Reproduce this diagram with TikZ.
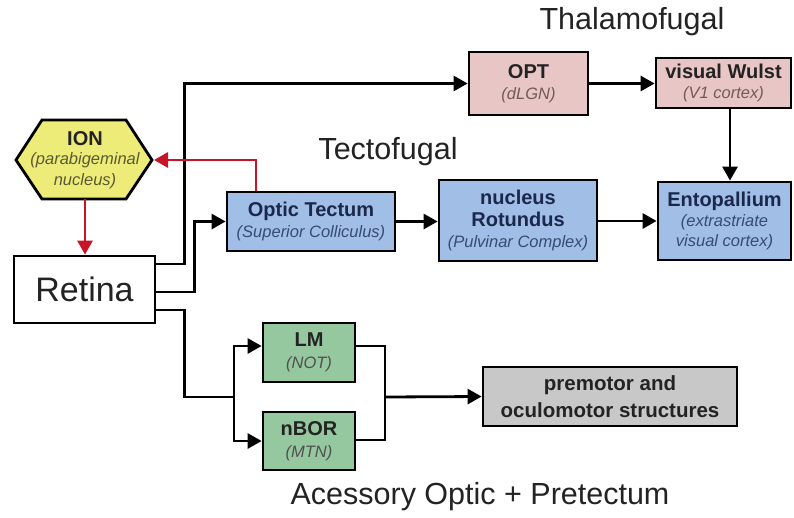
\documentclass[tikz,border=0pt]{standalone}
\usepackage{fontspec}
\setmainfont{Liberation Sans}
\usetikzlibrary{arrows.meta,calc}
\definecolor{bluebox}{RGB}{160,190,230}
\definecolor{pinkbox}{RGB}{232,198,198}
\definecolor{greenbox}{RGB}{150,200,160}
\definecolor{graybox}{RGB}{200,200,200}
\definecolor{yellowbox}{RGB}{238,236,120}
\definecolor{redline}{RGB}{200,20,40}
\definecolor{navy}{RGB}{28,40,75}
\definecolor{navysub}{RGB}{55,75,115}
\definecolor{pinksub}{RGB}{115,90,90}
\definecolor{darktxt}{RGB}{35,35,35}
\definecolor{graysub}{RGB}{80,80,80}
\definecolor{olivesub}{RGB}{90,90,50}
\newcommand{\ttl}[1]{{\fontsize{20}{22}\selectfont\bfseries #1}}
\newcommand{\sbt}[1]{{\fontsize{16.5}{22}\selectfont\itshape #1}}
\tikzset{
  box/.style={draw=black, line width=2.8pt, inner sep=0pt, align=center,
    font=\fontsize{16.5}{21.5}\selectfont},
  bluebx/.style={box, fill=bluebox, text=navy},
  pinkbx/.style={box, fill=pinkbox, text=darktxt},
  greenbx/.style={box, fill=greenbox, text=darktxt},
  graybx/.style={box, fill=graybox, text=darktxt},
  conn/.style={draw=black, line width=2.8pt, -{Triangle[length=14pt,width=15pt]}},
  plain/.style={draw=black, line width=2.8pt},
  redc/.style={draw=redline, line width=2.8pt, -{Triangle[length=14pt,width=15pt]}},
  title/.style={font=\fontsize{30.5}{34}\selectfont, text=darktxt}
}
\begin{document}
\begin{tikzpicture}[x=1pt,y=-1pt]
\useasboundingbox[fill=white] (0,0) rectangle (794,517);

% titles
\node[title] (tthal) at (632,22) {Thalamofugal};
\node[title] (ttect) at (388,152) {Tectofugal};
\node[title] (tacc) at (480,497) {Acessory Optic + Pretectum};

% ION hexagon
\filldraw[fill=yellowbox, draw=black, line width=2.8pt]
  (42,120) -- (126,120) -- (152,160) -- (126,199) -- (42,199) -- (16,160) -- cycle;
\node[align=center, text=darktxt, font=\fontsize{16.5}{20.5}\selectfont] (ion) at (85,160)
  {\ttl{ION}\\[-1pt]{\color{olivesub}\sbt{(parabigeminal}}\\{\color{olivesub}\sbt{nucleus)}}};
\coordinate (ionR) at (154,160);
\coordinate (ionB) at (85,199);

% boxes
\node[box, fill=white, minimum width=141pt, minimum height=67pt,
  font=\fontsize{34}{38}\selectfont, text=darktxt] (retina) at (84.5,289.5) {Retina};
\node[bluebx, minimum width=168pt, minimum height=59pt] (ot) at (311,221.5)
  {\ttl{Optic Tectum}\\{\color{navysub}\sbt{(Superior Colliculus)}}};
\node[bluebx, minimum width=158pt, minimum height=81pt] (rot) at (518,220.5)
  {\ttl{nucleus}\\\ttl{Rotundus}\\{\color{navysub}\sbt{(Pulvinar Complex)}}};
\node[bluebx, minimum width=133pt, minimum height=78pt, font=\fontsize{16.5}{20}\selectfont] (ento) at (724.5,221)
  {\ttl{Entopallium}\\{\color{navysub}\sbt{(extrastriate}}\\{\color{navysub}\sbt{visual cortex)}}};
\node[pinkbx, minimum width=119pt, minimum height=63pt] (opt) at (528.5,83.5)
  {\ttl{OPT}\\{\color{pinksub}\sbt{(dLGN)}}};
\node[pinkbx, minimum width=135pt, minimum height=50pt, font=\fontsize{16.5}{20}\selectfont] (wulst) at (723.5,83)
  {\ttl{visual Wulst}\\{\color{pinksub}\sbt{(V1 cortex)}}};
\node[greenbx, minimum width=92pt, minimum height=59pt] (lm) at (309,352.5)
  {\ttl{LM}\\{\color{graysub}\sbt{(NOT)}}};
\node[greenbx, minimum width=92pt, minimum height=58pt] (nbor) at (309,441)
  {\ttl{nBOR}\\{\color{graysub}\sbt{(MTN)}}};
\node[graybx, minimum width=254pt, minimum height=59pt, font=\fontsize{20.5}{26.5}\selectfont\bfseries] (pm) at (610,396.5)
  {premotor and\\oculomotor structures};

% junctions
\coordinate (brA) at (234,397);
\coordinate (brB) at (385,397);

% connectors from retina
\draw[conn] ([yshift=25.5pt]retina.east) -- ++(28,0) |- (opt.west);
\draw[conn] ([yshift=-2.5pt]retina.east) -- ++(38,0) |- (ot.west);
\draw[plain] ([yshift=-20.5pt]retina.east) -- ++(28,0) |- (brA);
\draw[conn] (brA) |- ([yshift=6.5pt]lm.west);
\draw[conn] (brA) |- (nbor.west);
\draw[plain] ([yshift=6.5pt]lm.east) -| (brB);
\draw[plain] ([yshift=1pt]nbor.east) -| (brB);
\draw[conn] (brB) -- (pm.west);

% tectofugal / thalamofugal
\draw[conn] (ot.east) -- (ot.east -| rot.west);
\draw[conn] (rot.east |- ento.west) -- (ento.west);
\draw[conn] (opt.east) -- (opt.east -| wulst.west);
\draw[conn] ([xshift=6.5pt]wulst.south) -- ([xshift=5.5pt]ento.north);

% red connectors
\draw[redc] ([xshift=-55pt]ot.north) |- (ionR);
\draw[redc] (ionB) -- (ionB |- retina.north);
\end{tikzpicture}
\end{document}
